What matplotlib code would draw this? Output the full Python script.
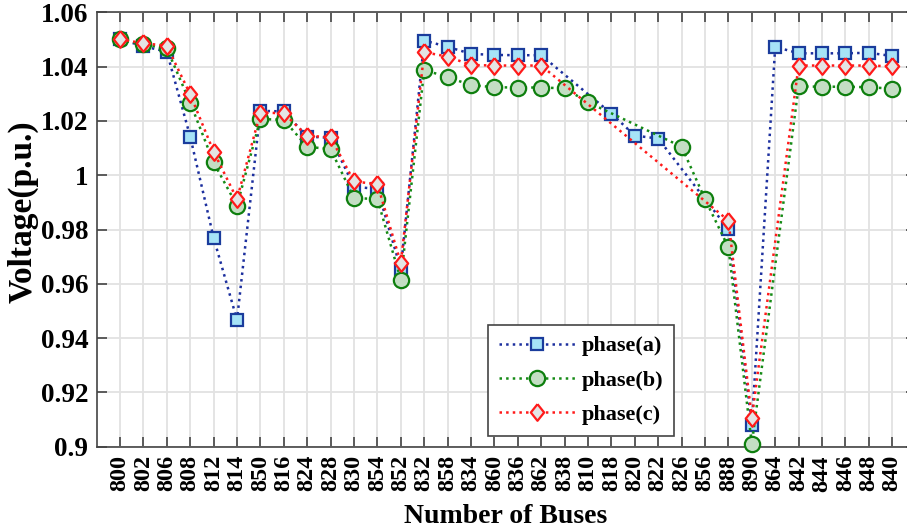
import numpy as np
import matplotlib.pyplot as plt
from matplotlib.ticker import FixedLocator, FixedFormatter

# bus order along the feeder
buses = ['800', '802', '806', '808', '812', '814', '850', '816', '824', '828',
         '830', '854', '852', '832', '858', '834', '860', '836', '862', '838',
         '810', '818', '820', '822', '826', '856', '888', '890', '864', '842',
         '844', '846', '848', '840']

# per-phase voltages (p.u.), None where the phase does not exist at that bus
phase_a = [1.0501, 1.0475, 1.0455, 1.0142, 0.9770, 0.9467, 1.0237, 1.0235, 1.0142, 1.0138,
           0.9958, 0.9949, 0.9654, 1.0496, 1.0473, 1.0447, 1.0443, 1.0442, 1.0442, None,
           None, 1.0227, 1.0146, 1.0135, None, None, 0.9801, 0.9081, 1.0473, 1.0449,
           1.0449, 1.0449, 1.0451, 1.0439]
phase_b = [1.0500, 1.0482, 1.0467, 1.0267, 1.0047, 0.9888, 1.0207, 1.0204, 1.0105, 1.0096,
           0.9916, 0.9912, 0.9615, 1.0388, 1.0361, 1.0332, 1.0324, 1.0323, 1.0323, 1.0320,
           1.0269, None, None, None, 1.0105, 0.9912, 0.9734, 0.9010, None, 1.0327,
           1.0326, 1.0326, 1.0324, 1.0319]
phase_c = [1.0501, 1.0486, 1.0477, 1.0298, 1.0087, 0.9912, 1.0231, 1.0228, 1.0145, 1.0140,
           0.9977, 0.9967, 0.9676, 1.0453, 1.0437, 1.0406, 1.0404, 1.0404, 1.0404, None,
           None, None, None, None, None, None, 0.9833, 0.9106, None, 1.0404,
           1.0404, 1.0404, 1.0404, 1.0401]

yticks = [0.9, 0.92, 0.94, 0.96, 0.98, 1.0, 1.02, 1.04, 1.06]
ytick_labels = ['0.9', '0.92', '0.94', '0.96', '0.98', '1', '1.02', '1.04', '1.06']

plt.rcParams['font.family'] = ['Liberation Serif', 'DejaVu Serif']
plt.rcParams['font.weight'] = 'bold'

fig = plt.figure(figsize=(9.07, 5.29), dpi=100)
ax = fig.add_axes([0.1065, 0.1556, 0.903, 0.8211])

x = np.arange(len(buses))

# tall diamond for phase c
diamond = [(0, 1), (0.8, 0), (0, -1), (-0.8, 0), (0, 1)]

series = [
    (phase_a, 'phase(a)', '#1c2f9e', 's', '#a6e3f7', '#1a3c9c', 8.5),
    (phase_b, 'phase(b)', '#158a15', 'o', '#c3dec3', '#0e7f0e', 11),
    (phase_c, 'phase(c)', '#ff1a1a', diamond, '#e4e4e4', '#ff1a1a', 12),
]

for vals, name, lc, mk, fc, ec, ms in series:
    v = np.array([np.nan if a is None else a for a in vals])
    ok = ~np.isnan(v)
    ax.plot(x[ok], v[ok], linestyle=':', color=lc, linewidth=1.8,
            marker=mk, markersize=ms, markerfacecolor=fc, markeredgecolor=ec,
            markeredgewidth=1.6, label=name, clip_on=False, zorder=3)

ax.set_xlim(-1, 34)
ax.set_ylim(0.9, 1.06)
ax.set_xticks(x)
ax.set_xticklabels(buses, rotation=90, fontsize=17.5, fontweight='bold')
ax.yaxis.set_major_locator(FixedLocator(yticks))
ax.yaxis.set_major_formatter(FixedFormatter(ytick_labels))
for t in ax.get_yticklabels():
    t.set_fontsize(19.5)
    t.set_fontweight('bold')

ax.tick_params(direction='in', top=True, right=True, length=7, width=1.2,
               color='#444444', pad=6)
ax.grid(True, color='#e2e2e2', linewidth=1.3)
ax.set_axisbelow(True)
for s in ax.spines.values():
    s.set_color('#444444')
    s.set_linewidth(1.2)

ax.set_xlabel('Number of Buses', fontsize=20, fontweight='bold', labelpad=9)
ax.set_ylabel('Voltage(p.u.)', fontsize=24, fontweight='bold')
ax.yaxis.set_label_coords(-0.0703, 0.54)

leg = ax.legend(loc='upper left', bbox_to_anchor=(0.478, 0.281), fontsize=16,
                handlelength=3.4, handletextpad=0.3, fancybox=False, framealpha=1,
                edgecolor='#444444', borderpad=0.5, labelspacing=0.62,
                borderaxespad=0)
leg.get_frame().set_linewidth(1.2)
for t in leg.get_texts():
    t.set_fontweight('bold')

fig.savefig('out.png', dpi=100)
